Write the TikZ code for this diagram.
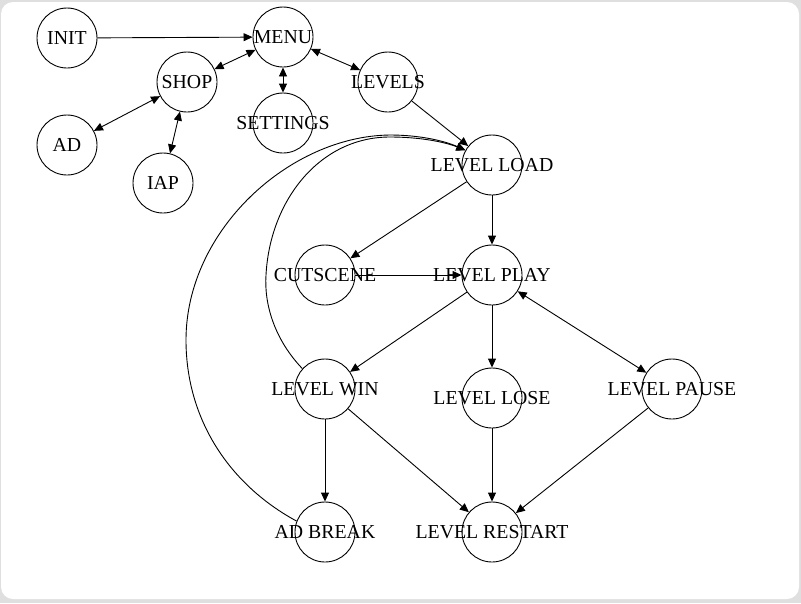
\documentclass[tikz,border=0pt]{standalone}
\usepackage{fontspec}
\setmainfont{Liberation Serif}
\usetikzlibrary{arrows.meta}
\begin{document}
\begin{tikzpicture}[x=1pt,y=-1pt,
  state/.style={draw,circle,minimum size=60pt,inner sep=0pt,line width=0.9pt,font=\fontsize{19.8}{22}\selectfont},
  edge/.style={line width=0.9pt,-{Triangle[length=9pt,width=8pt]}},
  biedge/.style={line width=0.9pt,{Triangle[length=9pt,width=8pt]}-{Triangle[length=9pt,width=8pt]}}]
\fill[gray!25] (0,0) rectangle (801,603);
\fill[white,rounded corners=12pt] (1,2) rectangle (799,599);
\useasboundingbox (0,0) rectangle (801,603);
\node[state] (init) at (67,38) {\makebox[0pt]{INIT}};
\node[state] (menu) at (283,37) {\makebox[0pt]{MENU}};
\node[state] (shop) at (187,82) {\makebox[0pt]{SHOP}};
\node[state] (levels) at (388,82) {\makebox[0pt]{LEVELS}};
\node[state] (settings) at (283,123) {\makebox[0pt]{SETTINGS}};
\node[state] (ad) at (67,145) {\makebox[0pt]{AD}};
\node[state] (iap) at (163,183) {\makebox[0pt]{IAP}};
\node[state] (load) at (492,165) {\makebox[0pt]{LEVEL LOAD}};
\node[state] (cut) at (325,275) {\makebox[0pt]{CUTSCENE}};
\node[state] (play) at (492,275) {\makebox[0pt]{LEVEL PLAY}};
\node[state] (win) at (325,389) {\makebox[0pt]{LEVEL WIN}};
\node[state] (lose) at (492,398) {\makebox[0pt]{LEVEL LOSE}};
\node[state] (pause) at (672,389) {\makebox[0pt]{LEVEL PAUSE}};
\node[state] (adbreak) at (325,532) {\makebox[0pt]{AD BREAK}};
\node[state] (restart) at (492,532) {\makebox[0pt]{LEVEL RESTART}};

\draw[edge] (init) -- (menu);
\draw[biedge] (menu) -- (shop);
\draw[biedge] (menu) -- (settings);
\draw[biedge] (menu) -- (levels);
\draw[biedge] (shop) -- (ad);
\draw[biedge] (shop) -- (iap);
\draw[edge] (levels) -- (load);
\draw[edge] (load) -- (cut);
\draw[edge] (load) -- (play);
\draw[edge] (cut) -- (play);
\draw[edge] (play) -- (win);
\draw[edge] (play) -- (lose);
\draw[biedge] (play) -- (pause);
\draw[edge] (win) -- (adbreak);
\draw[edge] (win) -- (restart);
\draw[edge] (lose) -- (restart);
\draw[edge] (pause) -- (restart);
\draw[edge] (win.138) .. controls (275,340) and (264,305) .. (266,275)
  .. controls (270,200) and (320,137) .. (390,137)
  .. controls (420,137) and (445,142) .. (load.151);
\draw[edge] (adbreak.159) .. controls (230,485) and (186,420) .. (186,340)
  .. controls (186,230) and (290,136) .. (390,135)
  .. controls (420,135) and (445,141) .. (load.151);
\end{tikzpicture}
\end{document}
